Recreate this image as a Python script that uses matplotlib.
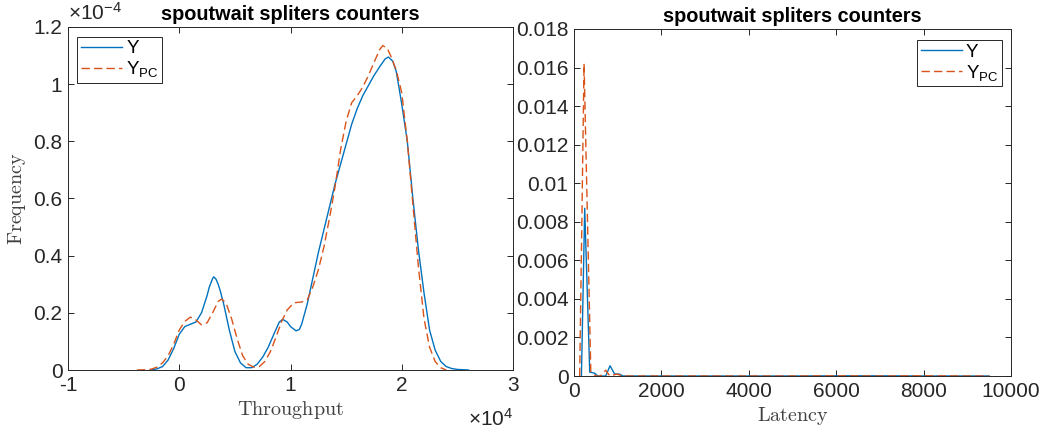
import matplotlib
matplotlib.use("Agg")
import matplotlib.pyplot as plt
from matplotlib.ticker import FixedLocator, FuncFormatter

# Throughput density (x in raw units, y in raw units)
thr_x = [-2600, -2000, -1500, -1000, -500, 0, 500, 1000, 1500, 2000, 2500, 2700, 3000, 3100,
         3300, 3500, 3700, 4000, 4500, 5000, 5500, 6000, 6500, 7000, 7500, 8000, 8500, 9000,
         9300, 9700, 10000, 10500, 10800, 11000, 11500, 12000, 12500, 13000, 13500, 14000,
         14500, 15000, 15500, 16000, 16500, 17000, 17500, 18000, 18500, 18800, 19200,
         19500, 19700, 20000, 20500, 21000, 21500, 22000, 22500, 23000, 23500, 24000,
         24500, 25000, 26000]
thr_y = [0, 0.004, 0.012, 0.035, 0.075, 0.125, 0.152, 0.16, 0.168, 0.2, 0.26, 0.29, 0.32, 0.326,
         0.318, 0.3, 0.275, 0.23, 0.14, 0.065, 0.025, 0.008, 0.008, 0.02, 0.045, 0.08, 0.125,
         0.168, 0.177, 0.168, 0.152, 0.137, 0.142, 0.16, 0.23, 0.32, 0.41, 0.49, 0.57, 0.65,
         0.72, 0.79, 0.86, 0.915, 0.96, 0.995, 1.03, 1.06, 1.088, 1.095, 1.08,
         1.045, 1.0, 0.93, 0.8, 0.6, 0.42, 0.27, 0.14, 0.07, 0.03, 0.012,
         0.005, 0.002, 0]
thr_y = [v * 1e-4 for v in thr_y]

thr_pc_x = [-3800, -3000, -2500, -2000, -1500, -1000, -500, 0, 500, 1000, 1500, 2000, 2500,
            3000, 3500, 3800, 4200, 4700, 5200, 5700, 6200, 6700, 7200, 7700, 8200, 8700,
            9200, 9700, 10300, 11000, 11500, 12000, 12500, 13000, 13500, 14000, 14500,
            15000, 15500, 16000, 16500, 17000, 17500, 18000, 18300, 18700, 19000, 19500,
            20000, 20500, 21000, 21500, 22000, 22500, 23000, 23500, 24000]
thr_pc_y = [0, 0.001, 0.003, 0.01, 0.025, 0.05, 0.09, 0.14, 0.17, 0.185, 0.175, 0.158, 0.165,
            0.2, 0.24, 0.248, 0.235, 0.18, 0.11, 0.05, 0.02, 0.01, 0.012, 0.03, 0.065, 0.115,
            0.17, 0.21, 0.235, 0.238, 0.245, 0.29, 0.35, 0.43, 0.53, 0.64, 0.77,
            0.87, 0.935, 0.96, 0.99, 1.03, 1.075, 1.12, 1.135, 1.125, 1.1, 1.05,
            0.97, 0.8, 0.58, 0.36, 0.18, 0.08, 0.03, 0.008, 0]
thr_pc_y = [v * 1e-4 for v in thr_pc_y]

# Latency histogram-like curves
lat_x = [170, 245, 360, 470, 545, 725, 825, 930, 1040, 1120, 2000, 3000, 4000, 5000,
         6000, 7000, 8000, 9000, 9500]
lat_y = [0, 0.0087, 0.0002, 0.00015, 0, 0, 0.00053, 0.0001, 0.0001, 0, 0, 0, 0, 0,
         0.00001, 0.00001, 0, 0, 0]
lat_pc_x = [130, 230, 385, 500, 600, 725, 820, 980, 1120, 2000, 3000, 4000, 5000,
            6000, 7000, 8000, 9000, 9500]
lat_pc_y = [0, 0.0162, 0.0002, 0, 0, 0.0003, 0, 0.0001, 0, 0, 0, 0, 0,
            0.00001, 0, 0.00001, 0, 0]

blue = "#0072BD"
orange = "#D95319"
axcol = "#262626"

plt.rcParams["font.family"] = ["Liberation Sans", "DejaVu Sans"]
plt.rcParams["mathtext.fontset"] = "custom"
plt.rcParams["mathtext.rm"] = "Liberation Sans"
plt.rcParams["mathtext.it"] = "Liberation Sans:italic"
plt.rcParams["mathtext.bf"] = "Liberation Sans:bold"

tick_size = 15
title_size = 14.3
label_size = 14.5
legend_size = 13.5

fig = plt.figure(figsize=(10.54, 4.32), dpi=100)
ax1 = fig.add_axes([68 / 1054, 1 - 370 / 432, 445 / 1054, 343 / 432])
ax2 = fig.add_axes([574 / 1054, 1 - 376 / 432, 437 / 1054, 347 / 432])


def style(ax):
    for s in ax.spines.values():
        s.set_color(axcol)
        s.set_linewidth(0.7)
    ax.tick_params(direction="in", length=4.5, width=0.7, colors=axcol,
                   labelsize=tick_size, top=True, right=True, pad=4)


def fmt(v, _):
    s = ("%.4f" % v).rstrip("0").rstrip(".")
    return "0" if s in ("-0", "") else s


# Left panel
ax1.plot(thr_x, thr_y, color=blue, linewidth=1.0, label="Y")
ax1.plot(thr_pc_x, thr_pc_y, color=orange, linewidth=1.0, linestyle=(0, (6, 3)),
         label=r"Y$_{\mathrm{PC}}$")
ax1.set_xlim(-10000, 30000)
ax1.set_ylim(0, 1.2e-4)
ax1.xaxis.set_major_locator(FixedLocator([-10000, 0, 10000, 20000, 30000]))
ax1.yaxis.set_major_locator(FixedLocator([i * 0.2e-4 for i in range(7)]))
ax1.xaxis.set_major_formatter(FuncFormatter(lambda v, p: fmt(v / 1e4, p)))
ax1.yaxis.set_major_formatter(FuncFormatter(lambda v, p: fmt(v / 1e-4, p)))
style(ax1)
ax1.set_title("spoutwait spliters counters", fontsize=title_size, fontweight="bold", pad=5)
ax1.set_xlabel(r"$\mathrm{Throughput}$", fontsize=label_size, color="#404040",
               math_fontfamily="cm", labelpad=3)
ax1.set_ylabel(r"$\mathrm{Frequency}$", fontsize=label_size, color="#404040",
               math_fontfamily="cm", labelpad=4)
ax1.text(0.0, 1.01, r"$\times$10$^{-4}$", transform=ax1.transAxes, fontsize=tick_size,
         color=axcol, ha="left", va="bottom")
ax1.text(1.0, -0.11, r"$\times$10$^{4}$", transform=ax1.transAxes, fontsize=tick_size,
         color=axcol, ha="right", va="top")
leg1 = ax1.legend(loc="upper left", bbox_to_anchor=(0.021, 0.972), fontsize=legend_size,
                  fancybox=False, edgecolor=axcol, framealpha=1, handlelength=2.2,
                  handletextpad=0.2, borderpad=0.2, labelspacing=0.1, borderaxespad=0)
leg1.get_frame().set_linewidth(0.7)

# Right panel
ax2.plot(lat_x, lat_y, color=blue, linewidth=1.0, label="Y")
ax2.plot(lat_pc_x, lat_pc_y, color=orange, linewidth=1.0, linestyle=(0, (6, 3)),
         label=r"Y$_{\mathrm{PC}}$")
ax2.set_xlim(0, 10000)
ax2.set_ylim(0, 0.018)
ax2.xaxis.set_major_locator(FixedLocator([0, 2000, 4000, 6000, 8000, 10000]))
ax2.yaxis.set_major_locator(FixedLocator([i * 0.002 for i in range(10)]))
ax2.xaxis.set_major_formatter(FuncFormatter(fmt))
ax2.yaxis.set_major_formatter(FuncFormatter(fmt))
style(ax2)
ax2.set_title("spoutwait spliters counters", fontsize=title_size, fontweight="bold", pad=5)
ax2.set_xlabel(r"$\mathrm{Latency}$", fontsize=label_size, color="#404040",
               math_fontfamily="cm", labelpad=3)
leg2 = ax2.legend(loc="upper right", bbox_to_anchor=(0.979, 0.969), fontsize=legend_size,
                  fancybox=False, edgecolor=axcol, framealpha=1, handlelength=2.2,
                  handletextpad=0.2, borderpad=0.2, labelspacing=0.1, borderaxespad=0)
leg2.get_frame().set_linewidth(0.7)

fig.savefig("out.png", dpi=100)
